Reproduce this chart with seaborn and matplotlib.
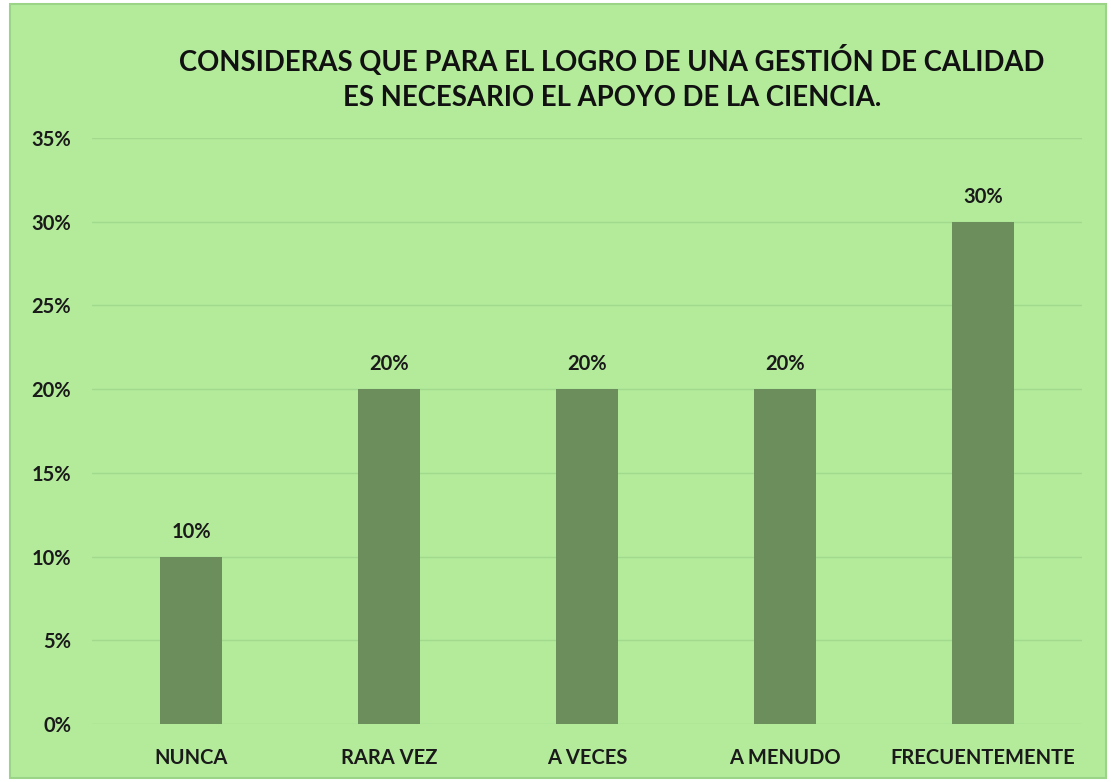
import matplotlib
matplotlib.use("Agg")
import matplotlib.pyplot as plt
import seaborn as sns
import pandas as pd
from matplotlib.patches import Rectangle
from matplotlib.ticker import PercentFormatter

categories = ["NUNCA", "RARA VEZ", "A VECES", "A MENUDO", "FRECUENTEMENTE"]
values = [0.10, 0.20, 0.20, 0.20, 0.30]
value_labels = ["10%", "20%", "20%", "20%", "30%"]
title = "CONSIDERAS QUE PARA EL LOGRO DE UNA GESTIÓN DE CALIDAD\nES NECESARIO EL APOYO DE LA CIENCIA."

BG = "#b3eb9b"
BAR = "#6b8e5c"
GRID = "#a3d98c"

sns.set_theme(style="white")
plt.rcParams["font.family"] = ["Lato", "DejaVu Sans"]
plt.rcParams["font.weight"] = "bold"

df = pd.DataFrame({"cat": categories, "val": values})

fig = plt.figure(figsize=(11.11, 7.82), dpi=100)
fig.patch.set_facecolor("white")
fig.patches.append(Rectangle((10 / 1111, 4 / 782), 1096 / 1111, 774 / 782,
                             transform=fig.transFigure, facecolor=BG,
                             edgecolor="#9bd487", linewidth=1.5, zorder=-1))

ax = fig.add_axes([92 / 1111, 58 / 782, 990 / 1111, 586 / 782])
ax.set_facecolor(BG)
ax.patch.set_alpha(0)

sns.barplot(data=df, x="cat", y="val", color=BAR, width=0.31, saturation=1,
            linewidth=0, ax=ax, zorder=3)

ax.set_ylim(0, 0.35)
ax.set_yticks([0, 0.05, 0.10, 0.15, 0.20, 0.25, 0.30, 0.35])
ax.yaxis.set_major_formatter(PercentFormatter(1.0, decimals=0))
ax.grid(axis="y", color=GRID, linewidth=1, zorder=0)
for s in ax.spines.values():
    s.set_visible(False)
ax.tick_params(axis="both", length=0, labelsize=14.5, labelcolor="#1a1a1a")
ax.tick_params(axis="y", pad=15)
ax.tick_params(axis="x", pad=17)
ax.set_xlabel("")
ax.set_ylabel("")

for i, (v, t) in enumerate(zip(values, value_labels)):
    ax.annotate(t, (i, v), xytext=(0, 25), textcoords="offset pixels",
                ha="center", va="center", fontsize=14.5, fontweight="bold", color="#1a1a1a")

fig.text(0.551, 1 - 78 / 782, title, ha="center", va="center", fontsize=19.8,
         fontweight="bold", color="#111111", linespacing=1.4)

fig.savefig("out.png", dpi=100, facecolor="white")
